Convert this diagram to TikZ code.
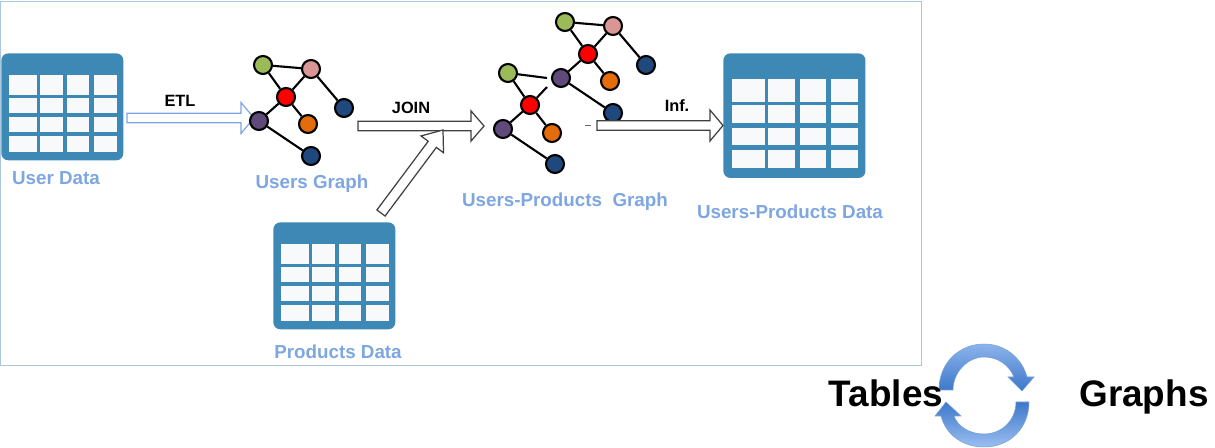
\documentclass[tikz,border=0pt]{standalone}
\usepackage{fontspec}
\setmainfont{Liberation Sans}
\usetikzlibrary{calc}
\definecolor{iconblue}{HTML}{3E88B5}
\definecolor{cellwhite}{HTML}{F8F9FA}
\definecolor{labelblue}{HTML}{7EA6E0}
\definecolor{frameblue}{HTML}{A9C8E0}
\definecolor{ringdark}{HTML}{3D78C9}
\definecolor{ringlight}{HTML}{9ABEF2}
\tikzstyle{gnode} = [circle, draw=black, line width=1.2pt, minimum size=0.36cm, inner sep=0pt]
\tikzstyle{gedge} = [draw=black, line width=1.2pt]
\tikzstyle{tablebody} = [fill=iconblue, rounded corners=4pt, inner sep=0pt, anchor=north west]
\tikzstyle{cell} = [fill=cellwhite]
\tikzstyle{boxlabel} = [text=labelblue, font=\fontsize{10.7}{12}\selectfont\bfseries]
\tikzstyle{oplabel} = [text=black, font=\fontsize{9.3}{11}\selectfont\bfseries]
\tikzstyle{biglabel} = [text=black, anchor=base, font=\fontsize{21}{24}\selectfont\bfseries]
\tikzstyle{blockarrow} = [fill=white, draw=black!75, line width=0.7pt, line join=miter]
\tikzstyle{ring} = [draw=ringdark!70!white, line width=0.3pt]

% one row of table cells, between two heights
\newcommand{\tablerow}[2]{
\fill[cell] (8,#1) rectangle (36,#2);
\fill[cell] (39,#1) rectangle (62,#2);
\fill[cell] (66,#1) rectangle (88,#2);
\fill[cell] (93,#1) rectangle (116,#2);
}
% name, x, y, scale
\newcommand{\tableicon}[4]{
\node (#1) [tablebody, minimum width=2.44cm*#4, minimum height=2.14cm*#4] at (#2,#3) {};
\begin{scope}[shift={(#2,#3)}, scale=#4]
\tablerow{22}{42}
\tablerow{45}{60}
\tablerow{64}{79}
\tablerow{83}{99}
\end{scope}
}
% prefix, x shift, y shift
\newcommand{\fullgraph}[3]{
\begin{scope}[shift={(#2,#3)}]
\node (#1green) [gnode, fill={rgb,255:red,155;green,187;blue,89}] at (263,65) {};
\node (#1pink) [gnode, fill={rgb,255:red,217;green,150;blue,148}] at (311,69) {};
\node (#1red) [gnode, fill=red] at (286,97) {};
\node (#1navy) [gnode, fill={rgb,255:red,31;green,73;blue,125}] at (344,108) {};
\node (#1purple) [gnode, fill={rgb,255:red,96;green,74;blue,123}] at (259,121) {};
\node (#1orange) [gnode, fill={rgb,255:red,228;green,108;blue,10}] at (308,124) {};
\node (#1leaf) [gnode, fill={rgb,255:red,31;green,73;blue,125}] at (311,156) {};
\end{scope}
\draw [gedge] (#1green) -- (#1pink);
\draw [gedge] (#1green) -- (#1red);
\draw [gedge] (#1pink) -- (#1red);
\draw [gedge] (#1pink) -- (#1navy);
\draw [gedge] (#1red) -- (#1purple);
\draw [gedge] (#1red) -- (#1orange);
\draw [gedge] (#1purple) -- (#1leaf);
}
% start, end, half shaft, head length, half head, style
\newcommand{\blockarrowpath}[6]{
\coordinate (#1neck) at ($(#2)!#4!(#1)$);
\draw [blockarrow,#6] ($(#1)!#3!90:(#2)$) -- ($(#1neck)!#3!90:(#2)$) -- ($(#1neck)!#5!90:(#2)$) -- (#2)
 -- ($(#1neck)!#5!-90:(#2)$) -- ($(#1neck)!#3!-90:(#2)$) -- ($(#1)!#3!-90:(#2)$) -- cycle;
}

\begin{document}
\begin{tikzpicture}[x=0.02cm,y=-0.02cm]
\useasboundingbox (0,0) rectangle (1215,448);

\node (frame) [draw=frameblue, line width=0.6pt, minimum width=18.42cm, minimum height=7.28cm, inner sep=0pt, anchor=north west] at (0,1) {};

\tableicon{userdata}{1}{53}{1}
\tableicon{productdata}{273}{222}{1}
\tableicon{joindata}{723}{53}{1.165}

\coordinate (etlS) at (127,118);
\coordinate (etlE) at (254,118);
\blockarrowpath{etlS}{etlE}{2.7pt}{7.4pt}{8.8pt}{draw=labelblue}

%graph under the join arrow
\node (cgreen) [gnode, fill={rgb,255:red,155;green,187;blue,89}] at (508,73) {};
\node (cred) [gnode, fill=red] at (530,105) {};
\node (cpurple) [gnode, fill={rgb,255:red,96;green,74;blue,123}] at (503,129) {};
\node (corange) [gnode, fill={rgb,255:red,228;green,108;blue,10}] at (552,133) {};
\node (cleaf) [gnode, fill={rgb,255:red,31;green,73;blue,125}] at (555,164) {};
\coordinate (cgreenend) at (547,78);
\coordinate (credend) at (547,87);
\draw [gedge] (cgreen) -- (cgreenend);
\draw [gedge] (cgreen) -- (cred);
\draw [gedge] (cred) -- (credend);
\draw [gedge] (cred) -- (cpurple);
\draw [gedge] (cred) -- (corange);
\draw [gedge] (cpurple) -- (cleaf);

\fullgraph{a}{0}{0}
\fullgraph{b}{302}{-43}

\coordinate (joinS) at (358,126);
\coordinate (joinE) at (484,126);
\blockarrowpath{joinS}{joinE}{2.7pt}{7.4pt}{8.6pt}{}
\coordinate (prodS) at (381,213);
\coordinate (prodE) at (443,130);
\blockarrowpath{prodS}{prodE}{2.9pt}{10.2pt}{8pt}{}
\coordinate (infS) at (597,125.5);
\coordinate (infE) at (723,125.5);
\blockarrowpath{infS}{infE}{2.7pt}{7.4pt}{8.8pt}{}
\coordinate (dashS) at (585,125);
\coordinate (dashE) at (591,125);
\draw [draw=black!60, line width=0.5pt] (dashS) -- (dashE);

\node (etl) [oplabel] at (180,101) {ETL};
\node (join) [oplabel] at (411,108) {JOIN};
\node (inf) [oplabel] at (677,106) {Inf.};

\node (userlabel) [boxlabel] at (56,178) {User Data};
\node (graphlabel) [boxlabel] at (312,184) {Users Graph};
\node (uplabel) [boxlabel] at (565,202) {Users-Products\ \ Graph};
\node (updatalabel) [boxlabel] at (790,212) {Users-Products Data};
\node (productlabel) [boxlabel] at (338,352) {Products Data};

\path [ring, top color=ringlight!85!ringdark, bottom color=ringdark] (939,390) .. controls (939,362) and (960,344) .. (984,344)
 .. controls (1005,344) and (1022,358) .. (1027,377) -- (1034,377) -- (1022,391) -- (1008,377) -- (1014,377)
 .. controls (1009,365) and (998,357) .. (984,357) .. controls (968,357) and (953,372) .. (953,390) -- cycle;
\path [ring, top color=ringdark, bottom color=ringlight] (1029,402) .. controls (1029,428) and (1010,447) .. (984,447)
 .. controls (963,447) and (946,435) .. (941,416) -- (935,416) -- (946,402) -- (961,416) -- (954,416)
 .. controls (958,427) and (970,434) .. (984,434) .. controls (1002,434) and (1016,420) .. (1016,402) -- cycle;

\node (tables) [biglabel] at (886,407) {Tables};
\node (graphs) [biglabel] at (1144,407) {Graphs};

\end{tikzpicture}
\end{document}
